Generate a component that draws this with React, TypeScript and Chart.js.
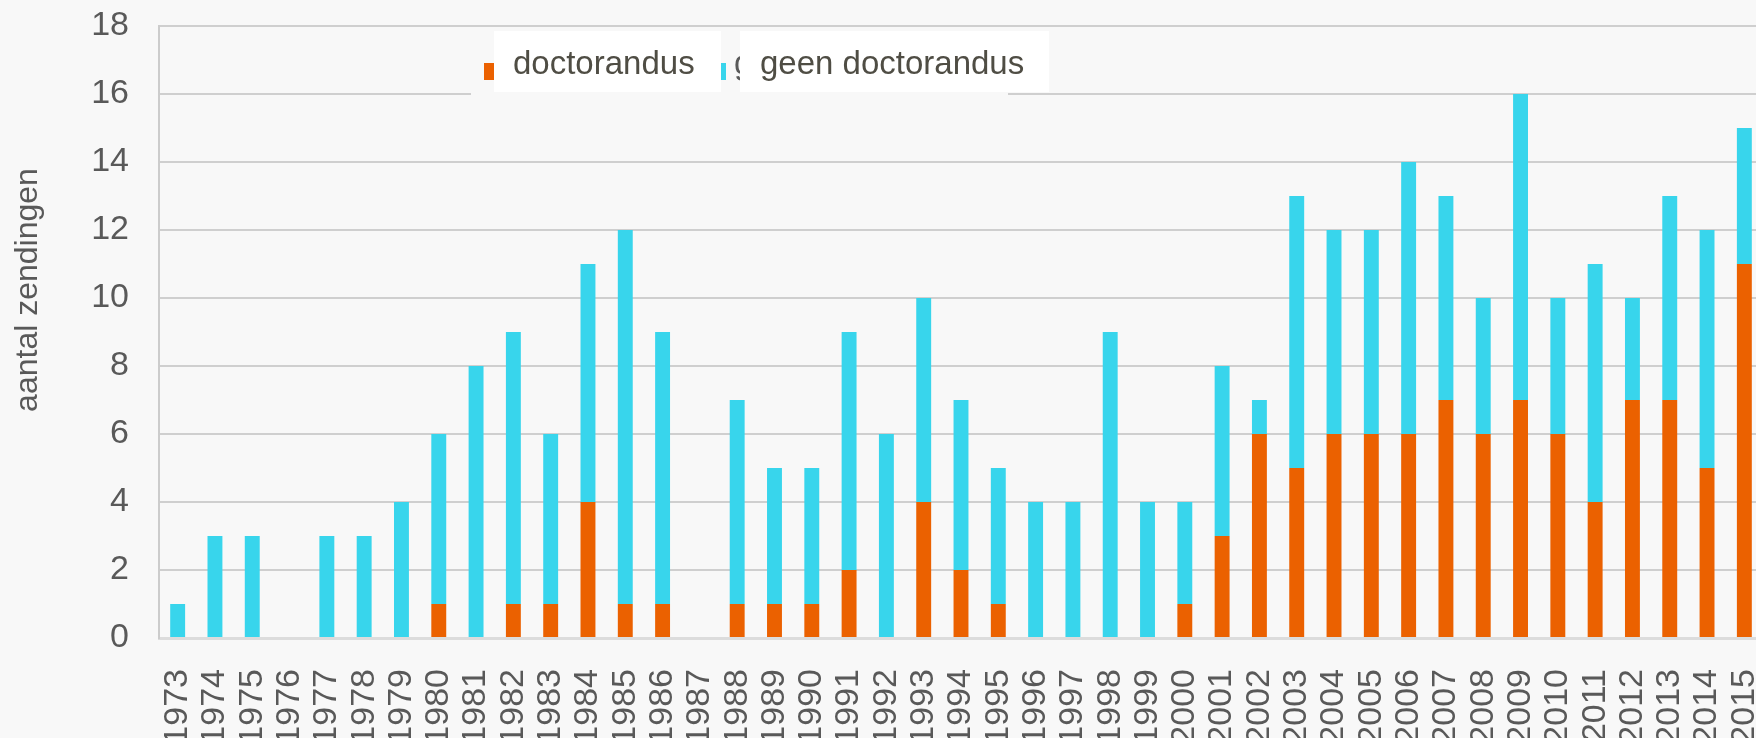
import React, { useEffect, useRef } from 'react';
import { Chart, registerables } from 'chart.js';

Chart.register(...registerables);

const years = [
  '1973', '1974', '1975', '1976', '1977', '1978', '1979', '1980', '1981', '1982',
  '1983', '1984', '1985', '1986', '1987', '1988', '1989', '1990', '1991', '1992',
  '1993', '1994', '1995', '1996', '1997', '1998', '1999', '2000', '2001', '2002',
  '2003', '2004', '2005', '2006', '2007', '2008', '2009', '2010', '2011', '2012',
  '2013', '2014', '2015',
];

const doctorandus = [
  0, 0, 0, 0, 0, 0, 0, 1, 0, 1,
  1, 4, 1, 1, 0, 1, 1, 1, 2, 0,
  4, 2, 1, 0, 0, 0, 0, 1, 3, 6,
  5, 6, 6, 6, 7, 6, 7, 6, 4, 7,
  7, 5, 11,
];

const geenDoctorandus = [
  1, 3, 3, 0, 3, 3, 4, 5, 8, 8,
  5, 7, 11, 8, 0, 6, 4, 4, 7, 6,
  6, 5, 4, 4, 4, 9, 4, 3, 5, 1,
  8, 6, 6, 8, 6, 4, 9, 4, 7, 3,
  6, 7, 4,
];

const seriesLabels = ['doctorandus', 'geen doctorandus'];
const seriesColors = ['#eb6100', '#38d5ec'];
const yAxisTitle = 'aantal zendingen';
const yMin = 0;
const yMax = 18;
const yStep = 2;

const CANVAS_W = 1763;
const CANVAS_H = 770;
const FONT = '"Liberation Sans", Arial, Helvetica, sans-serif';

const legendPlugin = {
  id: 'overlayLegend',
  afterDraw(chart: any) {
    const ctx = chart.ctx;
    const ds = chart.data.datasets;
    ctx.save();
    // background strip hiding gridline behind legend
    ctx.fillStyle = '#f8f8f8';
    ctx.fillRect(471, 30, 537, 70);
    ctx.font = `33px ${FONT}`;
    ctx.textBaseline = 'alphabetic';
    ctx.textAlign = 'left';
    // first entry
    ctx.fillStyle = ds[0].backgroundColor;
    ctx.fillRect(484, 63, 17, 17);
    ctx.fillStyle = '#595959';
    ctx.fillText(ds[0].label, 505, 74);
    ctx.fillStyle = '#ffffff';
    ctx.fillRect(494, 31, 227, 61);
    ctx.fillStyle = '#4f4d44';
    ctx.fillText(ds[0].label, 513, 74);
    // second entry
    ctx.fillStyle = ds[1].backgroundColor;
    ctx.fillRect(721, 63, 5, 17);
    ctx.fillStyle = '#595959';
    ctx.fillText(ds[1].label, 734, 74);
    ctx.fillStyle = '#ffffff';
    ctx.fillRect(740, 31, 309, 61);
    ctx.fillStyle = '#4f4d44';
    ctx.fillText(ds[1].label, 760, 74);
    ctx.restore();
  },
};

const axisTitlePlugin = {
  id: 'yAxisTitle',
  afterDraw(chart: any) {
    const ctx = chart.ctx;
    ctx.save();
    ctx.translate(28, 290);
    ctx.rotate(-Math.PI / 2);
    ctx.font = `32px ${FONT}`;
    ctx.fillStyle = '#595959';
    ctx.textAlign = 'center';
    ctx.textBaseline = 'middle';
    ctx.fillText(yAxisTitle, 0, 0);
    ctx.restore();
  },
};

export default function App() {
  const ref = useRef<HTMLCanvasElement | null>(null);

  useEffect(() => {
    if (!ref.current) return;
    const chart = new Chart(ref.current, {
      type: 'bar',
      data: {
        labels: years,
        datasets: [
          {
            label: seriesLabels[0],
            data: doctorandus,
            backgroundColor: seriesColors[0],
            borderWidth: 0,
            barPercentage: 0.4,
            categoryPercentage: 1,
          },
          {
            label: seriesLabels[1],
            data: geenDoctorandus,
            backgroundColor: seriesColors[1],
            borderWidth: 0,
            barPercentage: 0.4,
            categoryPercentage: 1,
          },
        ],
      },
      options: {
        responsive: false,
        animation: false,
        devicePixelRatio: 1,
        layout: { padding: { top: 26, right: 0, left: 0, bottom: 0 } },
        plugins: {
          legend: { display: false },
          tooltip: { enabled: false },
        },
        scales: {
          x: {
            stacked: true,
            grid: { display: false, drawTicks: false },
            border: { display: true, color: '#dcdcdc', width: 3 },
            ticks: {
              autoSkip: false,
              maxRotation: 90,
              minRotation: 90,
              padding: 31,
              color: '#595959',
              font: { family: FONT, size: 34 },
            },
            afterFit: (s: any) => {
              s.height = CANVAS_H - 638;
              s.paddingLeft = 0;
              s.paddingRight = 0;
            },
          },
          y: {
            stacked: true,
            min: yMin,
            max: yMax,
            ticks: {
              stepSize: yStep,
              padding: 30,
              color: '#595959',
              font: { family: FONT, size: 34 },
            },
            grid: { color: '#cfcfcf', lineWidth: 2, drawTicks: false },
            border: { display: true, color: '#cccccc', width: 2 },
            title: { display: false },
            afterFit: (s: any) => {
              s.width = 159;
              s.paddingTop = 0;
              s.paddingBottom = 0;
            },
          },
        },
      },
      plugins: [legendPlugin, axisTitlePlugin],
    });
    return () => chart.destroy();
  }, []);

  return (
    <div
      style={{
        position: 'fixed',
        left: 0,
        top: 0,
        width: 1756,
        height: 738,
        overflow: 'hidden',
        background: '#f8f8f8',
      }}
    >
      <canvas ref={ref} width={CANVAS_W} height={CANVAS_H} style={{ display: 'block' }} />
    </div>
  );
}
